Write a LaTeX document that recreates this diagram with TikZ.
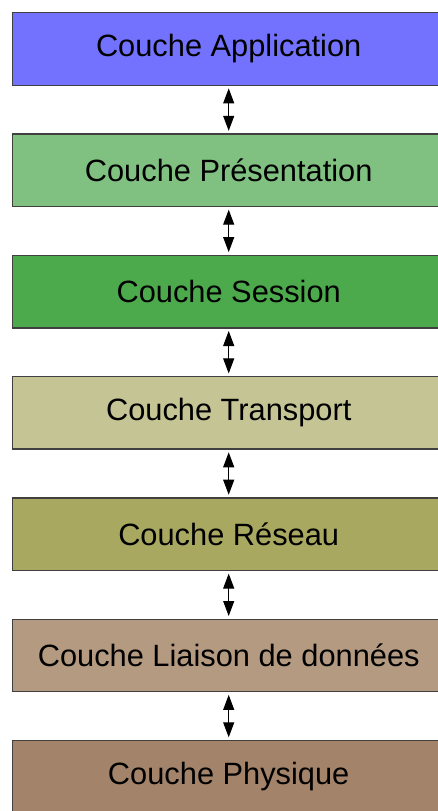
\documentclass[tikz,border=0pt]{standalone}
\usepackage{fontspec}
\setmainfont{Liberation Sans}
\usepackage{xcolor}
\usetikzlibrary{arrows.meta,positioning}

\definecolor{cApp}{HTML}{7272FF}
\definecolor{cPres}{HTML}{80C080}
\definecolor{cSess}{HTML}{4CAA4C}
\definecolor{cTrans}{HTML}{C4C494}
\definecolor{cRes}{HTML}{A8A860}
\definecolor{cLiai}{HTML}{B49A80}
\definecolor{cPhys}{HTML}{A3846A}

\begin{document}
\begin{tikzpicture}[
    x=1pt, y=1pt,
    node distance=47.4pt,
    every node/.style={font=\fontsize{30.8}{36}\selectfont},
    layer/.style={draw=black!75, line width=1.4pt, fill=#1,
                  minimum width=432pt, minimum height=72.5pt, inner sep=0pt},
    layer/.default=white,
    arr/.style={{Triangle[length=15pt,width=11pt]}-{Triangle[length=15pt,width=11pt]},
                line width=1pt, shorten >=2.5pt, shorten <=2.5pt},
  ]
    \useasboundingbox (0,0) rectangle (438,-811);

    % --- the seven layers ---
    \node[layer=cApp, anchor=north west] (app) at (12,-12) {Couche Application};
    \node[layer=cPres,  below=of app]    (pres)  {Couche Présentation};
    \node[layer=cSess,  below=of pres]   (sess)  {Couche Session};
    \node[layer=cTrans, below=of sess]   (trans) {Couche Transport};
    \node[layer=cRes,   below=of trans]  (res)   {Couche Réseau};
    \node[layer=cLiai,  below=of res]    (liai)  {Couche Liaison de données};
    \node[layer=cPhys,  below=of liai]   (phys)  {Couche Physique};

    % --- exchanges between neighbours ---
    \draw[arr] (app.south)   -- (pres.north);
    \draw[arr] (pres.south)  -- (sess.north);
    \draw[arr] (sess.south)  -- (trans.north);
    \draw[arr] (trans.south) -- (res.north);
    \draw[arr] (res.south)   -- (liai.north);
    \draw[arr] (liai.south)  -- (phys.north);
\end{tikzpicture}
\end{document}
